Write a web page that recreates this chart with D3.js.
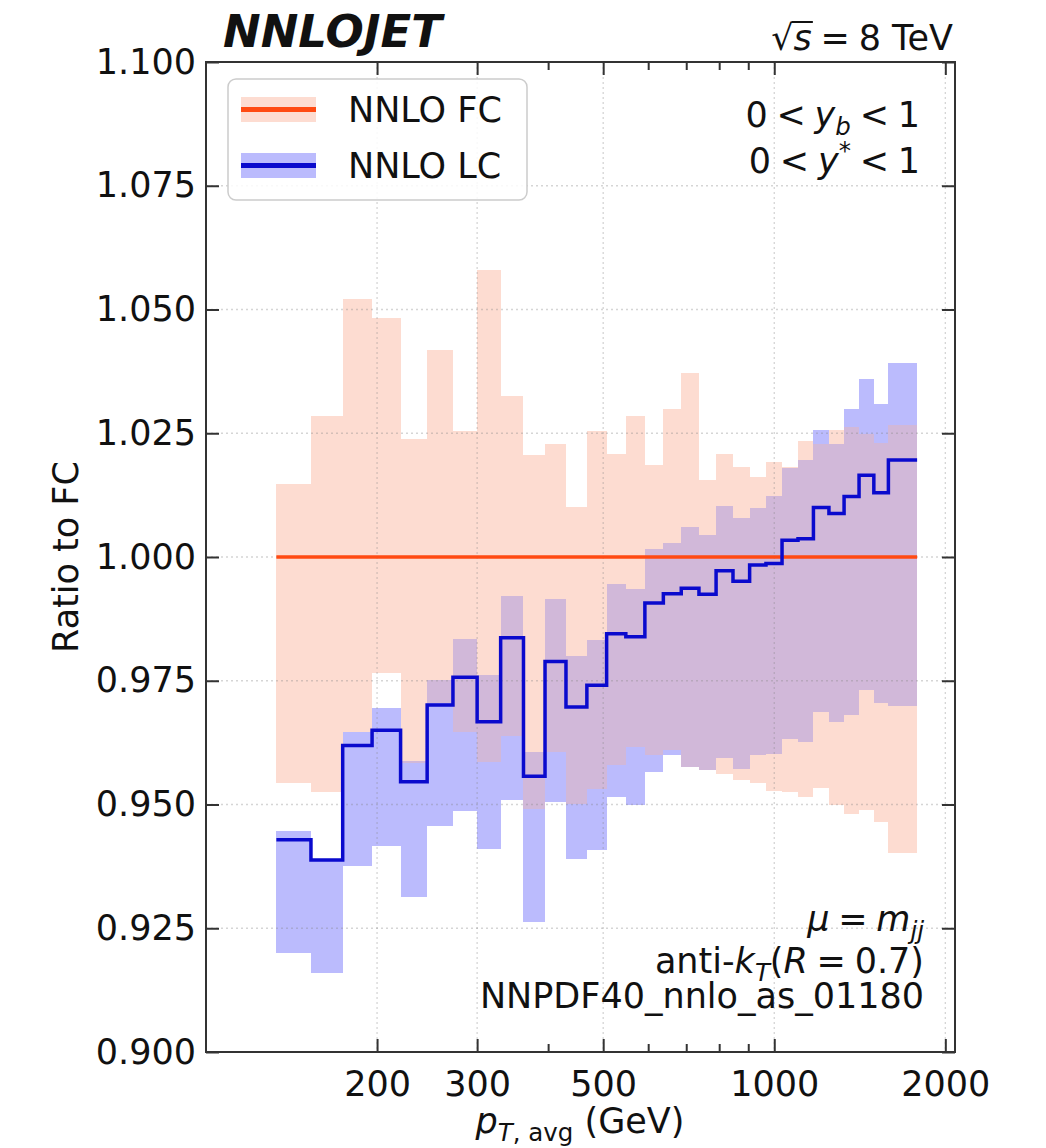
<!DOCTYPE html>
<html>
<head>
<meta charset="utf-8">
<script src="https://cdn.jsdelivr.net/npm/d3@7/dist/d3.min.js"></script>
<style>
  body { margin: 0; background: #fff; }
  svg text { font-family: "DejaVu Sans", sans-serif; fill: #111; }
</style>
</head>
<body>
<div id="chart"></div>
<script>
// pT,avg bin edges (GeV)
var binEdges = [133, 153, 174, 196, 220, 245, 272, 300, 330, 362, 395, 430, 468, 507, 548, 592,
                638, 686, 737, 790, 846, 905, 967, 1032, 1101, 1172, 1248, 1327, 1410, 1497, 1588, 1784];

// NNLO FC (reference): central ratio and scale band
var fcCentral = [1, 1, 1, 1, 1, 1, 1, 1, 1, 1, 1, 1, 1, 1, 1, 1,
                 1, 1, 1, 1, 1, 1, 1, 1, 1, 1, 1, 1, 1, 1, 1];
var fcUpper = [1.0147, 1.0284, 1.0521, 1.0482, 1.0238, 1.0419, 1.0255, 1.0580, 1.0325, 1.0206, 1.0229,
               1.0102, 1.0255, 1.0209, 1.0284, 1.0185, 1.0299, 1.0371, 1.0155, 1.0209, 1.0181, 1.0162,
               1.0192, 1.0181, 1.0234, 1.0229, 1.0257, 1.0263, 1.0249, 1.0230, 1.0266];
var fcLower = [0.9543, 0.9526, 0.9646, 0.9766, 0.9584, 0.9705, 0.9646, 0.9586, 0.9638, 0.9490, 0.9606,
               0.9502, 0.9532, 0.9580, 0.9616, 0.9599, 0.9611, 0.9576, 0.9569, 0.9562, 0.9549, 0.9543,
               0.9528, 0.9525, 0.9515, 0.9534, 0.9498, 0.9481, 0.9488, 0.9464, 0.9402];

// NNLO LC
var lcCentral = [0.9429, 0.9388, 0.9619, 0.9650, 0.9546, 0.9701, 0.9757, 0.9667, 0.9837, 0.9557, 0.9789,
                 0.9697, 0.9741, 0.9845, 0.9839, 0.9907, 0.9926, 0.9937, 0.9925, 0.9972, 0.9951, 0.9984,
                 0.9987, 1.0034, 1.0037, 1.0100, 1.0088, 1.0122, 1.0165, 1.0130, 1.0196];
var lcUpper = [0.9446, 0.9390, 0.9646, 0.9694, 0.9588, 0.9752, 0.9835, 0.9761, 0.9921, 0.9606, 0.9916,
               0.9799, 0.9832, 0.9945, 0.9936, 1.0017, 1.0028, 1.0061, 1.0044, 1.0104, 1.0078, 1.0099,
               1.0123, 1.0180, 1.0195, 1.0257, 1.0229, 1.0298, 1.0360, 1.0309, 1.0391];
var lcLower = [0.9200, 0.9159, 0.9376, 0.9416, 0.9313, 0.9456, 0.9487, 0.9411, 0.9510, 0.9262, 0.9505,
               0.9390, 0.9409, 0.9515, 0.9498, 0.9566, 0.9599, 0.9576, 0.9569, 0.9593, 0.9572, 0.9599,
               0.9603, 0.9633, 0.9626, 0.9687, 0.9667, 0.9681, 0.9732, 0.9705, 0.9700];

var xTickValues = [200, 300, 500, 1000, 2000];
var xMinorTicks = [400, 600, 700, 800, 900];
var yTickValues = [0.900, 0.925, 0.950, 0.975, 1.000, 1.025, 1.050, 1.075, 1.100];

var w = 1046;
var h = 1148;
var pLeft = 206, pRight = 955, pTop = 62, pBottom = 1052;
var fs = 35;
var thin = "\u2005";

var fcBand = "#fddcd1", lcBand = "#bbbbfd", bothBand = "#d1b8d9";
var fcLine = "#ff4a12", lcLine = "#0a0acd";

var xScale = d3.scaleLog()
               .domain([100, 2080])
               .range([pLeft, pRight]);

var yScale = d3.scaleLinear()
               .domain([0.9, 1.1])
               .range([pBottom, pTop]);

var svg = d3.select("#chart")
            .append("svg")
            .attr("width", w)
            .attr("height", h);

var bins = d3.range(fcUpper.length).map(function(i) {
  return {
    lo: binEdges[i], hi: binEdges[i + 1],
    fcU: fcUpper[i], fcL: fcLower[i],
    lcU: lcUpper[i], lcL: lcLower[i],
    lc: lcCentral[i], fc: fcCentral[i]
  };
});

function bandRects(cls, color, upper, lower) {
  svg.append("g")
     .selectAll("rect")
     .data(bins.filter(function(d) { return upper(d) > lower(d); }))
     .enter()
     .append("rect")
     .attr("class", cls)
     .attr("x", function(d) { return xScale(d.lo); })
     .attr("width", function(d) { return xScale(d.hi) - xScale(d.lo); })
     .attr("y", function(d) { return yScale(upper(d)); })
     .attr("height", function(d) { return yScale(lower(d)) - yScale(upper(d)); })
     .attr("fill", color)
     .attr("shape-rendering", "crispEdges");
}

bandRects("fc-band", fcBand, function(d) { return d.fcU; }, function(d) { return d.fcL; });
bandRects("lc-band", lcBand, function(d) { return d.lcU; }, function(d) { return d.lcL; });
// overlap of the two bands
bandRects("both-band", bothBand,
          function(d) { return Math.min(d.fcU, d.lcU); },
          function(d) { return Math.max(d.fcL, d.lcL); });

// grid (dotted), faintly over the bands
var grid = svg.append("g").attr("stroke", "#888").attr("stroke-opacity", 0.35)
              .attr("stroke-width", 1.3).attr("stroke-dasharray", "2,3");
grid.selectAll("line.gx")
    .data(xTickValues)
    .enter()
    .append("line")
    .attr("x1", function(d) { return xScale(d); })
    .attr("x2", function(d) { return xScale(d); })
    .attr("y1", pTop)
    .attr("y2", pBottom);
grid.selectAll("line.gy")
    .data(yTickValues.slice(1, -1))
    .enter()
    .append("line")
    .attr("x1", pLeft)
    .attr("x2", pRight)
    .attr("y1", function(d) { return yScale(d); })
    .attr("y2", function(d) { return yScale(d); });

// step lines
function stepPoints(vals) {
  var pts = bins.map(function(d, i) { return [d.lo, vals[i]]; });
  pts.push([bins[bins.length - 1].hi, vals[vals.length - 1]]);
  return pts;
}

var stepLine = d3.line()
                 .x(function(d) { return xScale(d[0]); })
                 .y(function(d) { return yScale(d[1]); })
                 .curve(d3.curveStepAfter);

svg.append("path")
   .attr("d", stepLine(stepPoints(fcCentral)))
   .attr("fill", "none")
   .attr("stroke", fcLine)
   .attr("stroke-width", 3.5);

svg.append("path")
   .attr("d", stepLine(stepPoints(lcCentral)))
   .attr("fill", "none")
   .attr("stroke", lcLine)
   .attr("stroke-width", 3.5)
   .attr("stroke-linejoin", "miter");

// axes with inward ticks
function styleAxis(g) {
  g.select(".domain").remove();
  g.selectAll(".tick line").attr("stroke", "#333").attr("stroke-width", 2);
  g.selectAll("text").attr("font-size", fs).attr("font-family", "DejaVu Sans").attr("fill", "#111");
  g.attr("font-family", null).attr("font-size", null);
}

svg.append("g")
   .attr("transform", "translate(0," + pBottom + ")")
   .call(d3.axisBottom(xScale).tickValues(xTickValues).tickFormat(d3.format("d"))
           .tickSizeInner(-13).tickSizeOuter(0).tickPadding(19))
   .call(styleAxis);
svg.append("g")
   .attr("transform", "translate(0," + pBottom + ")")
   .call(d3.axisBottom(xScale).tickValues(xMinorTicks).tickFormat("")
           .tickSizeInner(-8).tickSizeOuter(0))
   .call(styleAxis);
svg.append("g")
   .attr("transform", "translate(0," + pTop + ")")
   .call(d3.axisTop(xScale).tickValues(xTickValues).tickFormat("")
           .tickSizeInner(-13).tickSizeOuter(0))
   .call(styleAxis);
svg.append("g")
   .attr("transform", "translate(0," + pTop + ")")
   .call(d3.axisTop(xScale).tickValues(xMinorTicks).tickFormat("")
           .tickSizeInner(-8).tickSizeOuter(0))
   .call(styleAxis);
svg.append("g")
   .attr("transform", "translate(" + pLeft + ",0)")
   .call(d3.axisLeft(yScale).tickValues(yTickValues).tickFormat(d3.format(".3f"))
           .tickSizeInner(-13).tickSizeOuter(0).tickPadding(10))
   .call(styleAxis);
svg.append("g")
   .attr("transform", "translate(" + pRight + ",0)")
   .call(d3.axisRight(yScale).tickValues(yTickValues).tickFormat("")
           .tickSizeInner(-13).tickSizeOuter(0))
   .call(styleAxis);

svg.append("rect")
   .attr("x", pLeft)
   .attr("y", pTop)
   .attr("width", pRight - pLeft)
   .attr("height", pBottom - pTop)
   .attr("fill", "none")
   .attr("stroke", "#333")
   .attr("stroke-width", 2);

// text with italic / sub / superscript parts
function mathText(x, y, parts, size, anchor) {
  var t = svg.append("text")
             .attr("x", x)
             .attr("y", y)
             .attr("font-size", size)
             .attr("text-anchor", anchor || "start");
  var shift = 0;
  parts.forEach(function(p) {
    var target = p.sub ? size * 0.24 : (p.sup ? -size * 0.4 : 0);
    var ts = t.append("tspan").text(p.t).attr("dy", target - shift);
    shift = target;
    if (p.it) ts.attr("font-style", "italic");
    if (p.sub || p.sup) ts.attr("font-size", size * 0.7);
  });
  return t;
}

// title and labels
svg.append("text")
   .attr("x", 223)
   .attr("y", 47)
   .attr("font-size", 45)
   .attr("font-weight", "bold")
   .attr("font-style", "italic")
   .text("NNLOJET");

var sq = mathText(953, 50, [{t: "\u221A"}, {t: "s", it: true}, {t: thin + "=" + thin + "8 TeV"}], fs, "end");
var sqNode = sq.node();
var sx0 = sqNode.getEndPositionOfChar(0).x - 2;
var sx1 = sqNode.getEndPositionOfChar(1).x + 1;
svg.append("line")
   .attr("x1", sx0).attr("x2", sx1)
   .attr("y1", 50 - fs * 0.8).attr("y2", 50 - fs * 0.8)
   .attr("stroke", "#111").attr("stroke-width", 2);

mathText(920, 127, [{t: "0" + thin + "<" + thin}, {t: "y", it: true}, {t: "b", it: true, sub: true},
                    {t: thin + "<" + thin + "1"}], fs, "end");
mathText(920, 173, [{t: "0" + thin + "<" + thin}, {t: "y", it: true}, {t: "*", sup: true},
                    {t: thin + "<" + thin + "1"}], fs, "end");

mathText(924, 931, [{t: "\u03BC", it: true}, {t: thin + "=" + thin}, {t: "m", it: true},
                    {t: "jj", it: true, sub: true}], fs, "end");
mathText(924, 973, [{t: "anti-"}, {t: "k", it: true}, {t: "T", it: true, sub: true}, {t: "("},
                    {t: "R", it: true}, {t: thin + "=" + thin + "0.7)"}], fs, "end");
mathText(924, 1008, [{t: "NNPDF40_nnlo_as_01180"}], fs, "end");

mathText(580, 1133, [{t: "p", it: true}, {t: "T", it: true, sub: true}, {t: ", avg", sub: true}, {t: " (GeV)"}], fs, "middle");

svg.append("text")
   .attr("transform", "translate(78," + ((pTop + pBottom) / 2) + ") rotate(-90)")
   .attr("text-anchor", "middle")
   .attr("font-size", fs)
   .text("Ratio to FC");

// legend
var leg = svg.append("g");
leg.append("rect")
   .attr("x", 228).attr("y", 79)
   .attr("width", 299).attr("height", 121)
   .attr("rx", 8)
   .attr("fill", "#fff").attr("fill-opacity", 0.85)
   .attr("stroke", "#ccc").attr("stroke-width", 1.5);

var legendItems = [
  {label: "NNLO FC", band: fcBand, line: fcLine},
  {label: "NNLO LC", band: lcBand, line: lcLine}
];

leg.selectAll("g.item")
   .data(legendItems)
   .enter()
   .append("g")
   .attr("class", "item")
   .attr("transform", function(d, i) { return "translate(0," + (109.5 + i * 56) + ")"; })
   .each(function(d) {
     var g = d3.select(this);
     g.append("rect").attr("x", 241).attr("y", -12.5).attr("width", 75).attr("height", 25).attr("fill", d.band);
     g.append("line").attr("x1", 241).attr("x2", 316).attr("stroke", d.line).attr("stroke-width", 5);
     g.append("text").attr("x", 348).attr("y", 12).attr("font-size", fs).text(d.label);
   });
</script>
</body>
</html>
